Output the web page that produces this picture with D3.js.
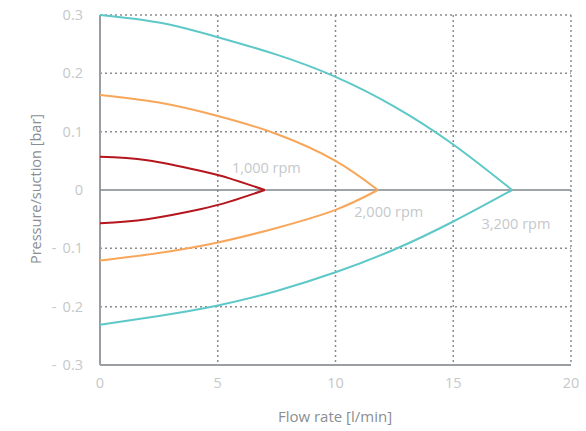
<!DOCTYPE html>
<html><head><meta charset="utf-8">
<script src="https://cdn.jsdelivr.net/npm/d3@7"></script>
<style>
html,body{margin:0;padding:0;background:#fff;}
text{font-family:"Open Sans",sans-serif;white-space:pre;}
</style></head>
<body>
<svg id="chart" width="586" height="431"></svg>
<script>
// ---- data ----
const xTicks = [0, 5, 10, 15, 20];
const yTicks = [0.3, 0.2, 0.1, 0, -0.1, -0.2, -0.3];
const yTickLabels = ["0.3", "0.2", "0.1", "0", "-\u2009 0.1", "-\u2009 0.2", "-\u2009 0.3"];
const seriesNames = ["1,000 rpm", "2,000 rpm", "3,200 rpm"];
const seriesColors = ["#b5161e", "#f7a65a", "#5ec8c8"];

const flow1000 = [0, 2, 4.25, 5.5, 7];
const pressure1000 = [0.057, 0.051, 0.033, 0.02, 0];
const suction1000 = [-0.057, -0.05, -0.033, -0.02, 0];

const flow2000 = [0, 2.5, 5, 7.5, 10, 11.8];
const pressure2000 = [0.163, 0.15, 0.127, 0.096, 0.05, 0];
const suction2000 = [-0.121, -0.108, -0.09, -0.065, -0.034, 0];

const flow3200 = [0, 2.5, 5, 7.5, 10, 12.5, 15, 17.5];
const pressure3200 = [0.3, 0.287, 0.262, 0.232, 0.194, 0.143, 0.078, 0];
const suction3200 = [-0.231, -0.216, -0.198, -0.173, -0.141, -0.102, -0.054, 0];

const labelPos = [[5.6, 0.03], [10.8, -0.047], [16.2, -0.067]]; // label anchor in data units

// ---- layout ----
const svg = d3.select("#chart");
const m = {left: 100, right: 15, top: 15, bottom: 66};
const W = 586, H = 431;
const x = d3.scaleLinear().domain([0, 20]).range([m.left, W - m.right]);
const y = d3.scaleLinear().domain([-0.3, 0.3]).range([H - m.bottom, m.top]);

const gridColor = "#8c8c8c";
// horizontal grid
svg.append("g").selectAll("line").data(yTicks.filter(v => v !== 0 && v !== -0.3)).join("line")
  .attr("x1", x(0)).attr("x2", x(20)).attr("y1", d => y(d)).attr("y2", d => y(d))
  .attr("stroke", gridColor).attr("stroke-width", 1.5).attr("stroke-dasharray", "2,3");
// vertical grid
svg.append("g").selectAll("line").data(xTicks.filter(v => v !== 0)).join("line")
  .attr("x1", d => x(d)).attr("x2", d => x(d)).attr("y1", y(0.3)).attr("y2", y(-0.3))
  .attr("stroke", gridColor).attr("stroke-width", 1.5).attr("stroke-dasharray", "2,3");

// axes lines
svg.append("line").attr("x1", x(0)).attr("x2", x(0)).attr("y1", y(0.3)).attr("y2", y(-0.3))
  .attr("stroke", "#9a9ea3").attr("stroke-width", 2);
svg.append("line").attr("x1", x(0)).attr("x2", x(20)).attr("y1", y(-0.3)).attr("y2", y(-0.3))
  .attr("stroke", "#9a9ea3").attr("stroke-width", 2);
svg.append("line").attr("x1", x(0)).attr("x2", x(20)).attr("y1", y(0)).attr("y2", y(0))
  .attr("stroke", "#7f868c").attr("stroke-width", 1.5);

// tick labels
svg.append("g").selectAll("text").data(yTicks).join("text")
  .attr("x", x(0) - 17).attr("y", d => y(d)).attr("dy", "0.35em")
  .attr("text-anchor", "end").attr("font-size", 14.5).attr("fill", "#c5c8cb")
  .text((d, i) => yTickLabels[i]);
svg.append("g").selectAll("text").data(xTicks).join("text")
  .attr("x", d => x(d)).attr("y", y(-0.3) + 23)
  .attr("text-anchor", "middle").attr("font-size", 14.5).attr("fill", "#c5c8cb")
  .text(d => d);

// axis titles
svg.append("text").attr("x", 335).attr("y", 422).attr("text-anchor", "middle")
  .attr("font-size", 15).attr("fill", "#8a8e92").text("Flow rate [l/min]");
svg.append("text").attr("transform", "translate(41,189) rotate(-90)").attr("text-anchor", "middle")
  .attr("font-size", 14.5).attr("fill", "#8a8e92").text("Pressure/suction [bar]");

// curves
const line = d3.line().x(d => x(d[0])).y(d => y(d[1])).curve(d3.curveNatural);
const series = [
  [flow1000, pressure1000, suction1000],
  [flow2000, pressure2000, suction2000],
  [flow3200, pressure3200, suction3200]
];
series.forEach((s, i) => {
  [s[1], s[2]].forEach(vals => {
    svg.append("path").datum(s[0].map((f, k) => [f, vals[k]]))
      .attr("d", line).attr("fill", "none")
      .attr("stroke", seriesColors[i]).attr("stroke-width", 2);
  });
  svg.append("text").attr("x", x(labelPos[i][0])).attr("y", y(labelPos[i][1]))
    .attr("font-size", 14.5).attr("fill", "#c5c8cb").text(seriesNames[i]);
});
</script>
</body></html>
